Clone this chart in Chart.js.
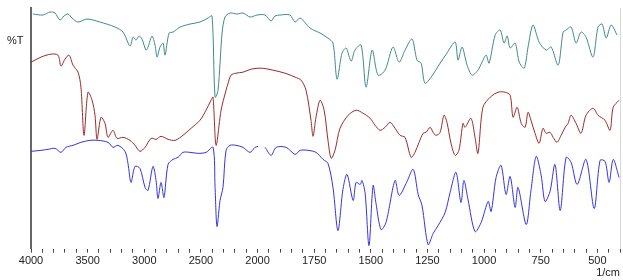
<!DOCTYPE html>
<html>
<head>
<meta charset="utf-8">
<script src="https://cdn.jsdelivr.net/npm/chart.js@4/dist/chart.umd.min.js"></script>
<style>
  html, body { margin: 0; padding: 0; background: #fff; }
  #wrap { width: 623px; height: 280px; }
</style>
</head>
<body>
<div id="wrap"><canvas id="irChart" width="623" height="280"></canvas></div>
<script>
// wavenumbers (1/cm) and transmittance (arbitrary %T units)
const tealWn = [3982, 3894, 3832, 3788, 3744, 3709, 3673, 3638, 3585, 3506, 3391, 3258, 3188, 3126, 3099, 3073, 3046, 3020, 2985, 2967, 2932, 2905, 2887, 2861, 2834, 2817, 2781, 2746, 2684, 2596, 2508, 2437, 2402, 2375, 2349, 2313, 2287, 2243, 2181, 2128, 2066, 2004, 1967, 1940, 1923, 1901, 1857, 1834, 1812, 1768, 1724, 1689, 1667, 1649, 1627, 1609, 1587, 1570, 1543, 1521, 1494, 1468, 1437, 1402, 1375, 1349, 1318, 1296, 1278, 1261, 1234, 1194, 1164, 1128, 1115, 1097, 1075, 1053, 1027, 1009, 991, 978, 951, 929, 912, 898, 885, 863, 845, 823, 806, 784, 757, 726, 704, 673, 651, 638, 616, 594, 572, 550, 519, 497, 479, 461, 439, 413];
const tealT = [234, 233, 236, 235, 228, 232, 234, 230, 226, 229, 226, 221, 216, 202, 211, 208, 212, 209, 198, 201, 212, 203, 191, 201, 205, 193, 215, 216, 221, 224, 226, 230, 232, 151, 158, 215, 231, 235, 234, 235, 231, 233, 233, 227, 232, 233, 233, 226, 230, 220, 215, 210, 205, 169, 195, 200, 187, 198, 203, 161, 198, 173, 178, 201, 186, 198, 209, 188, 185, 165, 171, 185, 195, 206, 188, 201, 183, 173, 178, 186, 193, 185, 213, 218, 205, 212, 200, 205, 186, 180, 201, 223, 206, 198, 201, 183, 216, 218, 221, 205, 216, 211, 191, 221, 224, 210, 223, 213];

const redWn = [4000, 3912, 3823, 3762, 3735, 3700, 3664, 3629, 3585, 3559, 3532, 3497, 3461, 3435, 3417, 3382, 3347, 3320, 3276, 3241, 3188, 3126, 3082, 3038, 2993, 2940, 2896, 2852, 2790, 2728, 2658, 2587, 2508, 2455, 2411, 2393, 2366, 2322, 2278, 2260, 2234, 2190, 2128, 2057, 1985, 1932, 1879, 1834, 1808, 1786, 1764, 1755, 1742, 1724, 1706, 1689, 1675, 1658, 1636, 1600, 1565, 1534, 1503, 1481, 1459, 1437, 1415, 1393, 1371, 1349, 1322, 1305, 1287, 1269, 1256, 1238, 1225, 1212, 1194, 1177, 1164, 1146, 1128, 1111, 1093, 1084, 1058, 1040, 1027, 1005, 973, 938, 907, 885, 872, 854, 836, 819, 806, 793, 775, 757, 740, 726, 709, 695, 678, 660, 642, 629, 616, 594, 572, 550, 519, 497, 466, 444, 430, 404];
const redT = [186, 191, 194, 193, 182, 189, 193, 183, 176, 161, 113, 156, 148, 133, 109, 131, 125, 111, 118, 110, 111, 108, 103, 97, 101, 110, 109, 112, 109, 108, 113, 120, 128, 138, 148, 151, 103, 138, 158, 165, 173, 175, 176, 179, 180, 178, 175, 171, 168, 158, 128, 112, 131, 148, 138, 108, 90, 98, 120, 133, 138, 135, 130, 123, 118, 121, 126, 120, 113, 111, 91, 96, 106, 115, 116, 121, 116, 113, 116, 133, 126, 105, 93, 98, 125, 121, 130, 111, 95, 141, 151, 156, 156, 153, 131, 141, 125, 121, 136, 128, 115, 105, 120, 115, 116, 111, 106, 113, 121, 125, 133, 125, 115, 133, 140, 133, 128, 118, 141, 148];

const blueWn = [4000, 3912, 3850, 3788, 3735, 3691, 3629, 3559, 3479, 3408, 3320, 3276, 3232, 3170, 3144, 3117, 3082, 3038, 2993, 2967, 2923, 2896, 2879, 2852, 2826, 2790, 2746, 2702, 2658, 2596, 2525, 2455, 2393, 2375, 2358, 2331, 2305, 2278, 2243, 2190, 2128, 2066, 2022, 1998, 1982, 1967, 1940, 1918, 1874, 1834, 1812, 1777, 1742, 1711, 1689, 1667, 1645, 1623, 1605, 1578, 1565, 1547, 1539, 1525, 1508, 1490, 1477, 1455, 1433, 1393, 1375, 1344, 1313, 1291, 1274, 1247, 1225, 1203, 1172, 1150, 1124, 1102, 1089, 1071, 1040, 1013, 982, 969, 947, 925, 903, 885, 863, 850, 814, 793, 770, 748, 731, 709, 687, 664, 638, 616, 589, 550, 514, 488, 466, 448, 430, 404];
const blueT = [97, 98, 99, 100, 96, 101, 103, 106, 108, 108, 106, 101, 103, 97, 85, 66, 82, 80, 61, 58, 82, 68, 50, 66, 51, 84, 89, 91, 96, 96, 95, 96, 101, 61, 22, 48, 61, 98, 103, 103, 101, 96, 101, 102, null, 101, 93, 101, 101, 94, 98, 98, 96, 89, 85, 61, 18, 59, 74, 48, 66, 64, 68, 55, 3, 63, 45, 19, 26, 68, 53, 65, 79, 54, 43, 4, 15, 23, 36, 56, 76, 46, 68, 49, 17, 26, 47, 37, 71, 83, 54, 72, 41, 61, 24, 58, 92, 73, 47, 57, 84, 38, 91, 86, 64, 89, 40, 88, 87, 66, 89, 71];

// the axis is compressed by half above 2000 1/cm, like the spectrometer printout
function wnToPos(wn) {
    return wn >= 2000 ? (4000 - wn) / 2 : 1000 + (2000 - wn);
}
function posToWn(p) {
    return p <= 1000 ? 4000 - 2 * p : 3000 - p;
}

function buildPoints(wns, vals) {
    return wns.map((wn, i) => ({ x: wnToPos(wn), y: vals[i] }));
}

const percentLabel = {
    id: 'percentLabel',
    afterDraw(chart) {
        const c = chart.ctx;
        c.save();
        c.font = '11px "Liberation Sans", Arial, sans-serif';
        c.fillStyle = '#222';
        c.textBaseline = 'middle';
        c.fillText('%T', 7, chart.chartArea.top + 33);
        c.restore();
    }
};

const ctx = document.getElementById('irChart').getContext('2d');
const irChart = new Chart(ctx, {
    type: 'line',
    data: {
        datasets: [
            { label: 'top', data: buildPoints(tealWn, tealT), borderColor: '#3f8a84', borderWidth: 1, pointRadius: 0, tension: 0.3, fill: false },
            { label: 'middle', data: buildPoints(redWn, redT), borderColor: '#9c2a2a', borderWidth: 1, pointRadius: 0, tension: 0.3, fill: false },
            { label: 'bottom', data: buildPoints(blueWn, blueT), borderColor: '#3434e0', borderWidth: 1, pointRadius: 0, tension: 0.3, fill: false, spanGaps: false }
        ]
    },
    plugins: [percentLabel],
    options: {
        responsive: false,
        animation: false,
        layout: { padding: { left: 30, right: 2, top: 8, bottom: 0 } },
        plugins: { legend: { display: false }, tooltip: { enabled: false } },
        scales: {
            x: {
                type: 'linear', min: 0, max: 2600,
                border: { display: false },
                grid: { drawOnChartArea: false, tickLength: 4, color: '#444' },
                ticks: {
                    stepSize: 50, autoSkip: false, maxRotation: 0, padding: 2,
                    color: '#222', font: { size: 11, family: '"Liberation Sans", Arial, sans-serif' },
                    callback: function(value) {
                        return value % 250 === 0 ? String(posToWn(value)) : '';
                    }
                },
                title: {
                    display: true, text: '1/cm', align: 'end', color: '#222',
                    padding: { top: -3, bottom: 0 },
                    font: { size: 11, family: '"Liberation Sans", Arial, sans-serif' }
                }
            },
            y: {
                min: 0, max: 240,
                border: { display: true, color: '#666', width: 2 },
                grid: { display: false },
                ticks: { display: false },
                afterFit: function(scale) { scale.width = 1; }
            },
            yRight: {
                position: 'right', min: 0, max: 240,
                border: { display: true, color: '#d8d8d8', width: 1 },
                grid: { display: false },
                ticks: { display: false },
                afterFit: function(scale) { scale.width = 1; }
            }
        }
    }
});
</script>
</body>
</html>
